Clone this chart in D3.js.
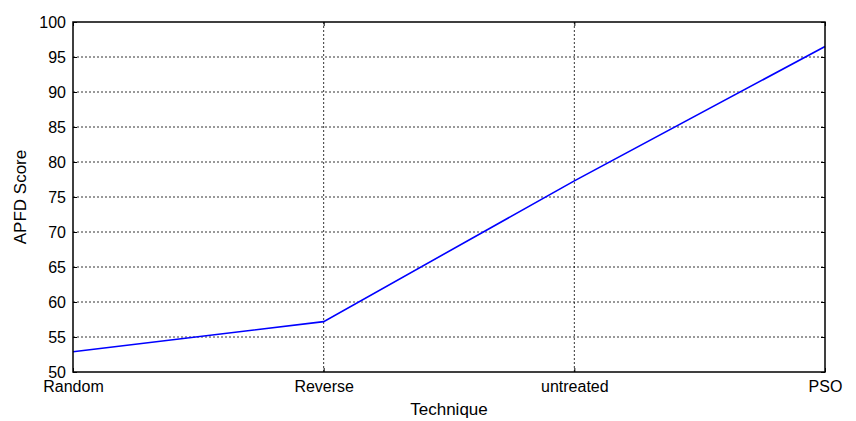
<!DOCTYPE html>
<html>
<head>
<meta charset="utf-8">
<script src="https://cdn.jsdelivr.net/npm/d3@7"></script>
<style>
  html, body { margin: 0; padding: 0; background: #fff; }
  svg { display: block; font-family: "Liberation Sans", Arial, sans-serif; }
</style>
</head>
<body>
<svg id="chart" width="856" height="421"></svg>
<script>
// APFD score per prioritisation technique
const techniques = ["Random", "Reverse", "untreated", "PSO"];
const apfdScores = [52.9, 57.2, 77.3, 96.5];
const yTicks = [50, 55, 60, 65, 70, 75, 80, 85, 90, 95, 100];

const margin = { left: 73, right: 31, top: 22, bottom: 49 };
const W = 856, H = 421;
const svg = d3.select("#chart");

const x = d3.scalePoint().domain(techniques).range([margin.left, W - margin.right]);
const y = d3.scaleLinear().domain([50, 100]).range([H - margin.bottom, margin.top]);

const x0 = margin.left, x1 = W - margin.right;
const y0 = H - margin.bottom, y1 = margin.top;

// dotted grid
const grid = svg.append("g").attr("stroke", "#000").attr("stroke-width", 0.8)
  .attr("stroke-dasharray", "2,2");
grid.selectAll("line.h").data(yTicks.slice(1, -1)).join("line")
  .attr("x1", x0).attr("x2", x1)
  .attr("y1", d => y(d)).attr("y2", d => y(d));
grid.selectAll("line.v").data(techniques.slice(1, -1)).join("line")
  .attr("x1", d => x(d)).attr("x2", d => x(d))
  .attr("y1", y0).attr("y2", y1);

// series line
svg.append("path")
  .datum(techniques.map((t, i) => [t, apfdScores[i]]))
  .attr("fill", "none").attr("stroke", "#0000ff").attr("stroke-width", 1.6)
  .attr("d", d3.line().x(d => x(d[0])).y(d => y(d[1])));

// axes with inward ticks
const axisLeftG = svg.append("g").attr("transform", `translate(${x0},0)`)
  .call(d3.axisLeft(y).tickValues(yTicks).tickSize(-4).tickPadding(7));
const axisRightG = svg.append("g").attr("transform", `translate(${x1},0)`)
  .call(d3.axisRight(y).tickValues(yTicks).tickSize(-4).tickFormat(""));
const axisBottomG = svg.append("g").attr("transform", `translate(0,${y0})`)
  .call(d3.axisBottom(x).tickSize(-4).tickPadding(9));
const axisTopG = svg.append("g").attr("transform", `translate(0,${y1})`)
  .call(d3.axisTop(x).tickSize(-4).tickFormat(""));

[axisLeftG, axisRightG, axisBottomG, axisTopG].forEach(g => {
  g.select(".domain").remove();
  g.selectAll("line").attr("stroke", "#000").attr("stroke-width", 1);
  g.selectAll("text").attr("fill", "#000").style("font-size", "16px")
    .style("font-family", "Liberation Sans, Arial, sans-serif");
});

// frame
svg.append("rect").attr("x", x0).attr("y", y1)
  .attr("width", x1 - x0).attr("height", y0 - y1)
  .attr("fill", "none").attr("stroke", "#000").attr("stroke-width", 1.5);

// axis titles
svg.append("text").attr("x", (x0 + x1) / 2).attr("y", 415)
  .attr("text-anchor", "middle").style("font-size", "17px").text("Technique");
svg.append("text").attr("transform", `translate(26,${(y0 + y1) / 2}) rotate(-90)`)
  .attr("text-anchor", "middle").style("font-size", "17px").text("APFD Score");
</script>
</body>
</html>
